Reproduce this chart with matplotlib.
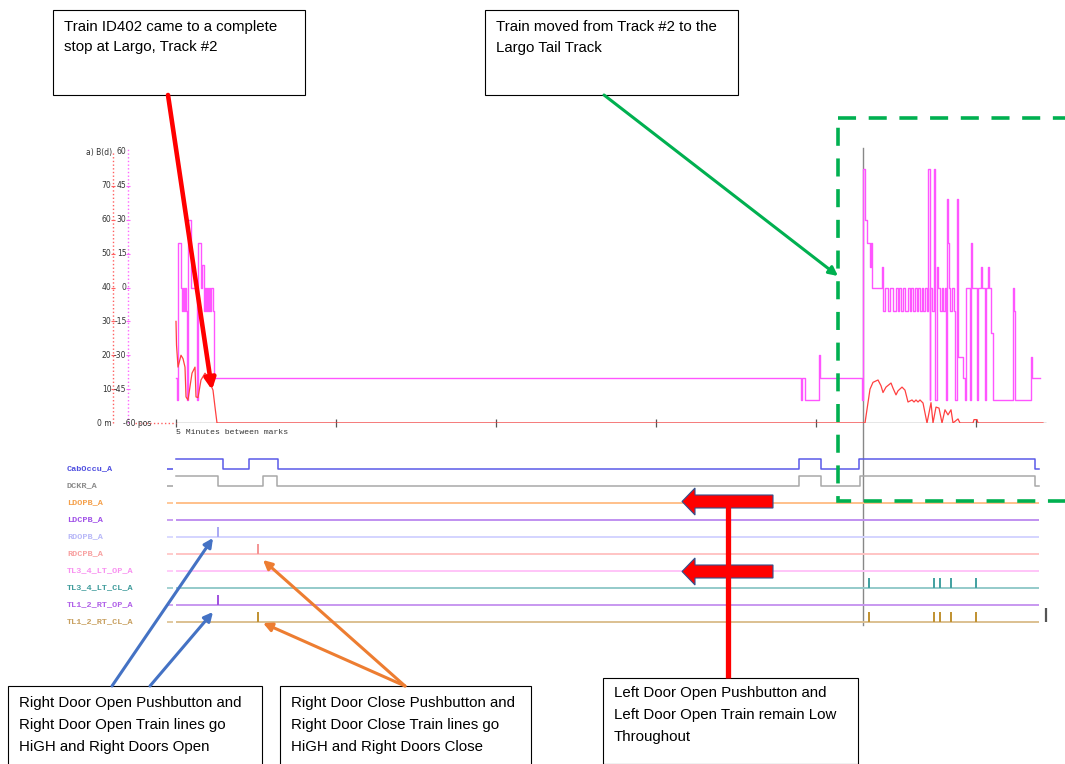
import numpy as np
import matplotlib.pyplot as plt
from matplotlib.patches import Rectangle, FancyArrow

# --- data (time in minutes from the first mark) ---
pink_t = [0.000, 0.016, 0.078, 0.156, 0.188, 0.219, 0.250, 0.281, 0.313, 0.344,
          0.375, 0.469, 0.641, 0.672, 0.781, 0.813, 0.875, 0.906, 0.938, 0.969,
          1.000, 1.031, 1.063, 1.094, 1.156, 1.188,
          19.531, 19.563, 19.656, 20.094, 20.125,
          21.453, 21.484, 21.516, 21.594, 21.688, 21.719, 21.750, 22.063, 22.094,
          22.156, 22.250, 22.328, 22.406, 22.500, 22.547, 22.609, 22.656, 22.719,
          22.781, 22.875, 22.938, 22.984, 23.031, 23.094, 23.141, 23.188, 23.250,
          23.297, 23.344, 23.406, 23.469, 23.500, 23.547, 23.578, 23.625, 23.688,
          23.734, 23.766, 23.813, 23.875, 23.922, 23.969, 24.016, 24.063, 24.094,
          24.125, 24.156, 24.203, 24.250, 24.297, 24.344, 24.391, 24.422, 24.453,
          24.594, 24.641, 24.688, 24.813, 24.844, 24.875, 25.031, 25.063, 25.156,
          25.188, 25.281, 25.313, 25.375, 25.406, 25.469, 25.531, 26.156, 26.188,
          26.219, 26.719, 26.750, 27.000]
pink_v = [13.3, 6.8, 53, 40, 33, 40, 33, 40, 33, 6.8,
          60, 40, 6.8, 53, 40, 46.6, 33, 40, 33, 40,
          33, 40, 33, 40, 33, 13.3,
          6.8, 13.3, 6.8, 20, 13.3,
          6.8, 75, 60, 53, 46, 53, 40, 46, 33,
          40, 33, 40, 33, 40, 33, 40, 33, 40,
          33, 40, 33, 40, 33, 40, 33, 40, 33,
          40, 33, 40, 33, 75, 6.8, 40, 33, 75,
          6.8, 46, 40, 33, 40, 33, 40, 6.8, 66,
          53, 40, 33, 40, 33, 6.8, 66, 53, 19.5,
          13.3, 6.8, 40, 6.8, 53, 40, 6.8, 40, 46,
          40, 6.8, 40, 46, 40, 26.5, 6.8, 40, 33,
          6.8, 19.5, 13.3, 13.3]

speed_t = [0.000, 0.016, 0.063, 0.156, 0.219, 0.281, 0.313, 0.375, 0.500, 0.594,
           0.625, 0.688, 0.781, 0.906, 0.969, 1.063, 1.156, 1.219, 1.281,
           21.531, 21.625, 21.688, 21.781, 21.938, 22.031, 22.094, 22.188, 22.344,
           22.406, 22.500, 22.563, 22.688, 22.781, 22.875, 23.000, 23.063, 23.125,
           23.188, 23.250, 23.344, 23.469, 23.594, 23.656, 23.750, 23.844, 23.938,
           24.031, 24.125, 24.219, 24.281, 24.438, 24.500, 24.906, 24.938, 25.031,
           25.063, 27.094]
speed_v = [30, 23, 16.5, 20, 19, 16.5, 7.7, 6.8, 14.7, 16.5,
           7.7, 7.5, 12.7, 14.7, 14, 11.8, 9.7, 4.7, 0,
           0, 6, 10, 12, 12.7, 11, 9, 10.6, 11.8,
           10.3, 8.3, 9.5, 10.6, 9.7, 6.2, 6.8, 6.2, 6.8,
           6.2, 6.8, 5.9, 0, 6, 0, 4.7, 4.4, 0,
           3.9, 2.4, 3.9, 0, 1.2, 0, 0, 1, 1,
           0, 0]

scale_speed = [10, 20, 30, 40, 50, 60, 70]
scale_pos = [-45, -30, -15, 0, 15, 30, 45]
mark_minutes = [0, 5, 10, 15, 20, 25]
trace_end = 27.19
cursor_t = 21.484

rows = ['CabOccu_A', 'DCKR_A', 'LDOPB_A', 'LDCPB_A', 'RDOPB_A', 'RDCPB_A',
        'TL3_4_LT_OP_A', 'TL3_4_LT_CL_A', 'TL1_2_RT_OP_A', 'TL1_2_RT_CL_A']
row_end = 26.969
cab_t = [0, 1.469, 2.281, 3.188, 19.469, 20.156, 21.359, 26.844, 26.969]
cab_v = [1, 0, 1, 0, 1, 0, 1, 0, 0]
dckr_t = [0, 1.313, 2.719, 3.156, 19.469, 20.156, 21.375, 26.844, 26.969]
dckr_v = [1, 0, 1, 0, 1, 0, 1, 0, 0]
rd_open_pulse = [1.313]
rd_close_pulse = [2.563]
tl_cl_pulses = [21.656, 23.688, 23.875, 24.219, 25.000]

label_colors = ['#4f4fe0', '#8c8c8c', '#f5a04a', '#a050e8', '#b8b8f8', '#f8a0a0',
                '#f890f0', '#409c9c', '#b060e8', '#c8a060']
line_colors = ['#5a5ae8', '#a8a8a8', '#ffc08a', '#c090f0', '#d4d4ff', '#ffc4c4',
               '#ffc4f8', '#94caca', '#c898f0', '#dcc090']

W, H = 1065, 764
fig = plt.figure(figsize=(W / 100, H / 100), dpi=100)


def px_axes(x0, y0, x1, y1, **kw):
    return fig.add_axes([x0 / W, 1 - y1 / H, (x1 - x0) / W, (y1 - y0) / H], **kw)


xlim = (-0.5, 27.3125)
mono = 'Liberation Mono'

# --- upper trace panel ---
ax = px_axes(160, 152, 1050, 423)
ax.set_xlim(*xlim)
ax.set_ylim(0, 80)
ax.axis('off')
ax.hlines(0, 0, trace_end, color='#808080', lw=1, zorder=1)
ax.vlines(mark_minutes, -1.2, 1.2, color='#555555', lw=0.9, clip_on=False)
ax.plot(pink_t, pink_v, drawstyle='steps-post', color='#ff55ff', lw=1, zorder=3)
ax.plot(speed_t, speed_v, color='#ff4040', lw=0.9, zorder=4)
ax.axvline(cursor_t, ymin=-202 / 271, ymax=275 / 271, color='#888888', lw=1,
           clip_on=False, zorder=2)
ax.hlines(0, -1.28, 0, color='#ff6060', lw=1, linestyles=':', clip_on=False)
ytr = ax.get_yaxis_transform()
ax.vlines(-0.0528, 0, 80, transform=ytr, color='#ff6060', lw=1, linestyles=':',
          clip_on=False)
ax.vlines(-0.036, 0, 81.2, transform=ytr, color='#ff66ff', lw=1, linestyles=':',
          clip_on=False)
sfs = 5.5
for v in scale_speed:
    ax.text(-0.0545, v, str(v), transform=ytr, ha='right', va='center',
            fontsize=sfs, color='#333333')
    ax.hlines(v, -0.0555, -0.0505, transform=ytr, color='#ff6060', lw=0.8,
              clip_on=False)
for p in scale_pos:
    y = (p + 60) / 120 * 80
    ax.text(-0.0375, y, str(p), transform=ytr, ha='right', va='center',
            fontsize=sfs, color='#333333')
    ax.hlines(y, -0.0385, -0.0335, transform=ytr, color='#ff66ff', lw=0.8,
              clip_on=False)
ax.text(-0.0535, 80, 'a) B(d)', transform=ytr, ha='right', va='center',
        fontsize=sfs, color='#333333')
ax.text(-0.0375, 80, '60', transform=ytr, ha='right', va='center',
        fontsize=sfs, color='#333333')
ax.text(-0.0545, 0, '0 m', transform=ytr, ha='right', va='center',
        fontsize=sfs, color='#333333')
ax.text(-0.0415, 0, '-60 pos', transform=ytr, ha='left', va='center',
        fontsize=sfs, color='#333333')
ax.text(0, -2.95, '5 Minutes between marks', ha='left', va='center',
        fontsize=5.9, family=mono, color='#333333')

# --- digital signal panel ---
bx = px_axes(160, 450, 1050, 630)
bx.set_xlim(*xlim)
bx.set_ylim(-9.47, 1.118)
bx.axis('off')
hi = 0.59
btr = bx.get_yaxis_transform()
for i, name in enumerate(rows):
    base = -i
    bx.text(-0.1045, base, name, transform=btr, ha='left', va='center',
            fontsize=6.1, family=mono, fontweight='bold', color=label_colors[i])
    bx.hlines(base, -0.281, -0.094, color=line_colors[i], lw=1.2)
    if name == 'CabOccu_A':
        bx.plot(cab_t, base + hi * np.array(cab_v), drawstyle='steps-post',
                color=line_colors[i], lw=1.1)
    elif name == 'DCKR_A':
        bx.plot(dckr_t, base + hi * np.array(dckr_v), drawstyle='steps-post',
                color=line_colors[i], lw=1.1)
    else:
        bx.hlines(base, 0, row_end, color=line_colors[i], lw=1.4)

pulse_sets = {'RDOPB_A': (rd_open_pulse, '#a8a8f4'),
              'RDCPB_A': (rd_close_pulse, '#f49494'),
              'TL1_2_RT_OP_A': (rd_open_pulse, '#a050e0'),
              'TL1_2_RT_CL_A': (rd_close_pulse + tl_cl_pulses, '#c09030'),
              'TL3_4_LT_CL_A': (tl_cl_pulses, '#40a0a0')}
for name, (times, col) in pulse_sets.items():
    base = -rows.index(name)
    bx.vlines(times, base, base + hi, color=col, lw=1.4)
bx.vlines(27.188, -9.0, -8.18, color='#555555', lw=1.6, clip_on=False)

# --- annotation overlay (pixel space) ---
ov = fig.add_axes([0, 0, 1, 1], zorder=10)
ov.set_xlim(0, W)
ov.set_ylim(H, 0)
ov.axis('off')
ov.patch.set_alpha(0)

font = 'Liberation Sans'
boxes = [
    ((53, 10, 252, 85), ['Train ID402 came to a complete', 'stop at Largo, Track #2'], 27, 20),
    ((485, 10, 253, 85), ['Train moved from Track #2 to the', 'Largo Tail Track'], 27, 21),
    ((8, 686, 254, 80), ['Right Door Open Pushbutton and', 'Right Door Open Train lines go',
                         'HiGH and Right Doors Open'], 703, 22),
    ((280, 686, 251, 80), ['Right Door Close Pushbutton and', 'Right Door Close Train lines go',
                           'HiGH and Right Doors Close'], 703, 22),
    ((603, 678, 255, 86), ['Left Door Open Pushbutton and', 'Left Door Open Train remain Low',
                           'Throughout'], 693, 22),
]
for (x0, y0, w, h), lines, ty, dy in boxes:
    ov.add_patch(Rectangle((x0, y0), w, h, fc='white', ec='black', lw=0.8))
    for k, line in enumerate(lines):
        ov.text(x0 + 11, ty + k * dy, line, ha='left', va='center', fontsize=10.8,
                family=font, color='black')


def arrow(x0, y0, x1, y1, color, lw, ms):
    ov.annotate('', xy=(x1, y1), xytext=(x0, y0),
                arrowprops=dict(arrowstyle='-|>', color=color, lw=lw,
                                mutation_scale=ms, shrinkA=0, shrinkB=0))


arrow(168, 95, 212, 390, '#ff0000', 3.3, 16)
arrow(604, 95, 838, 276, '#00b050', 2.2, 13)
arrow(112, 686, 213, 538, '#4472c4', 2.2, 13)
arrow(150, 686, 213, 612, '#4472c4', 2.2, 13)
arrow(405, 686, 263, 560, '#ed7d31', 2.2, 13)
arrow(405, 686, 263, 623, '#ed7d31', 2.2, 13)

ov.plot([728, 728], [500, 678], color='#ff0000', lw=3.8, solid_capstyle='butt')
for yc in (501.5, 571.5):
    ov.add_patch(FancyArrow(773, yc, -91, 0, width=13, head_width=27, head_length=13,
                            length_includes_head=True, fc='#ff0000', ec='#2f528f', lw=0.8))

ov.add_patch(Rectangle((838, 118), 260, 383, fill=False, ec='#00b050', lw=2.6,
                       ls=(0, (5, 3.5)), clip_on=False))

fig.savefig('out.png', dpi=100)
